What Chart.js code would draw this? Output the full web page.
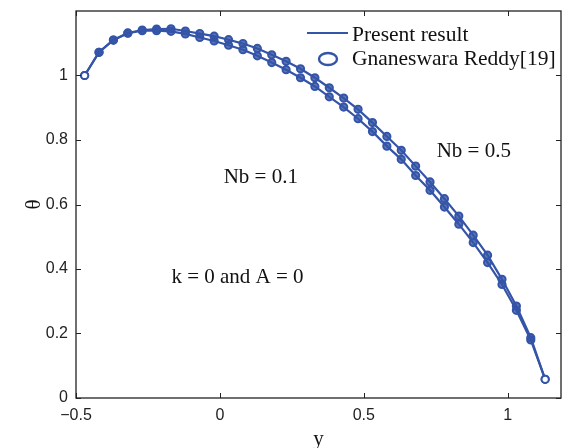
<!DOCTYPE html>
<html>
<head>
<meta charset="utf-8">
<script src="https://cdn.jsdelivr.net/npm/chart.js@4/dist/chart.umd.min.js"></script>
<style>
  html, body { margin: 0; padding: 0; background: #fff; }
  #wrap { width: 562px; height: 448px; }
</style>
</head>
<body>
<div id="wrap"><canvas id="c" width="562" height="448"></canvas></div>
<script>
// ---- data ----
const xValues = [-0.47, -0.42, -0.37, -0.32, -0.27, -0.22, -0.17, -0.12, -0.07, -0.02,
                  0.03,  0.08,  0.13,  0.18,  0.23,  0.28,  0.33,  0.38,  0.43,  0.48,
                  0.53,  0.58,  0.63,  0.68,  0.73,  0.78,  0.83,  0.88,  0.93,  0.98,
                  1.03,  1.08,  1.13];
const thetaNb05 = [1.000, 1.072, 1.110, 1.132, 1.141, 1.144, 1.145, 1.138, 1.130, 1.122,
                   1.111, 1.099, 1.084, 1.064, 1.044, 1.021, 0.993, 0.962, 0.930, 0.895,
                   0.854, 0.811, 0.768, 0.719, 0.670, 0.618, 0.564, 0.505, 0.443, 0.368,
                   0.285, 0.187, 0.058];
const thetaNb01 = [1.000, 1.072, 1.110, 1.131, 1.139, 1.139, 1.137, 1.129, 1.118, 1.107,
                   1.094, 1.080, 1.061, 1.040, 1.018, 0.993, 0.966, 0.934, 0.902, 0.866,
                   0.826, 0.781, 0.740, 0.690, 0.644, 0.592, 0.539, 0.482, 0.420, 0.352,
                   0.272, 0.180, 0.058];
const xTickValues = [-0.5, 0, 0.5, 1];
const yTickValues = [0, 0.2, 0.4, 0.6, 0.8, 1];
const legendLabels = ['Present result', 'Gnaneswara Reddy[19]'];
const annotations = [
  { text: 'Nb = 0.1', x: 0.142, y: 0.666 },
  { text: 'Nb = 0.5', x: 0.882, y: 0.746 },
  { text: 'k = 0 and A = 0', x: 0.061, y: 0.356 }
];
const xTitle = 'y';
const yTitle = 'θ';

// ---- styling ----
const BLUE = '#3454a8';
const SERIF = '"Liberation Serif", "Times New Roman", serif';
const SANS = '"Liberation Sans", Arial, sans-serif';
const AXIS = '#222222';

const toPts = arr => xValues.map((x, i) => ({ x: x, y: arr[i] }));

function lineDs(label, arr) {
  return { type: 'line', label: label, data: toPts(arr), borderColor: BLUE, borderWidth: 2.2,
           pointRadius: 0, fill: false, tension: 0, order: 2 };
}
function markerDs(label, arr) {
  return { type: 'scatter', label: label, data: toPts(arr), showLine: false,
           pointStyle: 'circle', pointRadius: 3.6, pointBorderWidth: 2,
           pointBorderColor: BLUE,
           pointBackgroundColor: ctx => (ctx.dataIndex === 0 || ctx.dataIndex === xValues.length - 1)
             ? '#ffffff' : 'rgba(52,84,168,0.8)',
           order: 1 };
}

const fmt = v => {
  const s = String(Math.round(v * 10) / 10);
  return s.replace('-', '\u2212');
};

const framePlugin = {
  id: 'frame',
  afterDatasetsDraw(chart) {
    const { ctx, chartArea: a, scales } = chart;
    ctx.save();
    ctx.strokeStyle = AXIS;
    ctx.lineWidth = 1.3;
    ctx.strokeRect(a.left, a.top, a.right - a.left, a.bottom - a.top);
    const tl = 5;
    ctx.beginPath();
    xTickValues.forEach(v => {
      const px = Math.round(scales.x.getPixelForValue(v)) + 0.5;
      ctx.moveTo(px, a.bottom); ctx.lineTo(px, a.bottom - tl);
      ctx.moveTo(px, a.top); ctx.lineTo(px, a.top + tl);
    });
    yTickValues.forEach(v => {
      const py = Math.round(scales.y.getPixelForValue(v)) + 0.5;
      ctx.moveTo(a.left, py); ctx.lineTo(a.left + tl, py);
      ctx.moveTo(a.right, py); ctx.lineTo(a.right - tl, py);
    });
    ctx.lineWidth = 1;
    ctx.stroke();

    // annotations (positioned in data coordinates)
    ctx.fillStyle = '#111';
    ctx.font = '21px ' + SERIF;
    ctx.textAlign = 'center';
    ctx.textBaseline = 'alphabetic';
    annotations.forEach(n => {
      ctx.fillText(n.text, scales.x.getPixelForValue(n.x), scales.y.getPixelForValue(n.y));
    });

    // legend (top right, no box)
    const lx = a.right - 254, ly1 = a.top + 30, ly2 = a.top + 54;
    ctx.strokeStyle = BLUE;
    ctx.lineWidth = 2.2;
    ctx.beginPath();
    ctx.moveTo(lx, ly1 - 8); ctx.lineTo(lx + 41, ly1 - 8);
    ctx.stroke();
    ctx.lineWidth = 2.4;
    ctx.beginPath();
    ctx.ellipse(lx + 21, ly2 - 6, 9, 6, 0, 0, Math.PI * 2);
    ctx.stroke();
    ctx.textAlign = 'left';
    ctx.fillStyle = '#111';
    ctx.font = '21.5px ' + SERIF;
    ctx.fillText(legendLabels[0], lx + 45, ly1);
    ctx.fillText(legendLabels[1], lx + 45, ly2);
    ctx.restore();
  }
};

new Chart(document.getElementById('c'), {
  data: {
    datasets: [
      lineDs('Present result (Nb = 0.5)', thetaNb05),
      lineDs('Present result (Nb = 0.1)', thetaNb01),
      markerDs('Gnaneswara Reddy[19] (Nb = 0.5)', thetaNb05),
      markerDs('Gnaneswara Reddy[19] (Nb = 0.1)', thetaNb01)
    ]
  },
  options: {
    responsive: false,
    devicePixelRatio: 1,
    animation: false,
    events: [],
    layout: { autoPadding: false, padding: { top: 11, right: 1, left: 0, bottom: 0 } },
    plugins: { legend: { display: false }, tooltip: { enabled: false } },
    scales: {
      x: {
        type: 'linear', min: -0.5, max: 1.185,
        afterBuildTicks: s => { s.ticks = xTickValues.map(v => ({ value: v })); },
        afterFit: s => { s.height = 50; s.paddingLeft = 0; s.paddingRight = 0; },
        grid: { display: false, drawTicks: false },
        border: { display: false },
        ticks: { color: '#222', font: { family: SANS, size: 16 }, padding: 8, callback: v => fmt(v), maxRotation: 0 },
        title: { display: true, text: xTitle, color: '#111', font: { family: SERIF, size: 21, lineHeight: 0.8 }, padding: { top: 0, bottom: 0 } }
      },
      y: {
        type: 'linear', min: 0, max: 1.2,
        afterBuildTicks: s => { s.ticks = yTickValues.map(v => ({ value: v })); },
        afterFit: s => { s.width = 76; s.paddingTop = 0; s.paddingBottom = 0; },
        grid: { display: false, drawTicks: false },
        border: { display: false },
        ticks: { color: '#222', font: { family: SANS, size: 16 }, padding: 8, callback: v => fmt(v) },
        title: { display: true, text: yTitle, color: '#111', font: { family: SERIF, size: 21 }, padding: { top: 22, bottom: 0 } }
      }
    }
  },
  plugins: [framePlugin]
});
</script>
</body>
</html>
